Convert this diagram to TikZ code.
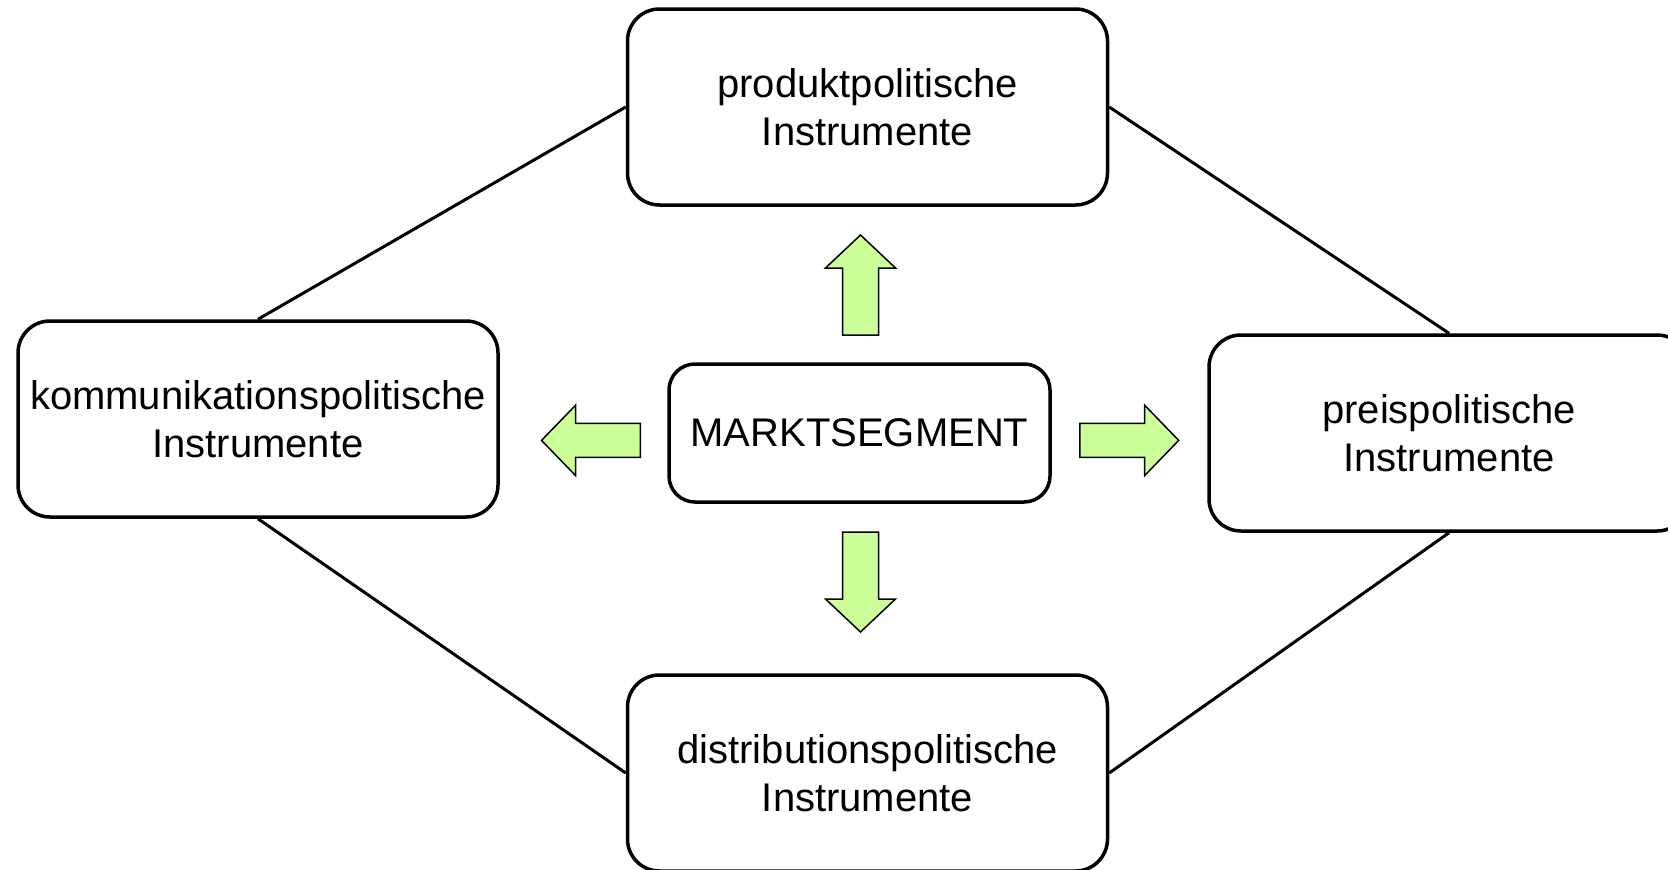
\documentclass[tikz,border=0pt]{standalone}
\usepackage{fontspec}
\setmainfont{Liberation Sans}
\definecolor{arrowgreen}{RGB}{204,255,153}
\begin{document}
\begin{tikzpicture}[x=1pt,y=-1pt,
  box/.style={draw=black, line width=3.5pt, rounded corners=32pt, fill=white,
    minimum width=480pt, minimum height=196pt, inner sep=0pt, align=center,
    font=\fontsize{40}{48}\selectfont},
  centerbox/.style={box, minimum width=381pt, minimum height=138pt, rounded corners=26pt},
  link/.style={draw=black, line width=3pt},
  blockarrow/.style={draw=black, line width=1.5pt, fill=arrowgreen, line join=miter}]
\clip (0,0) rectangle (1668,870);
\fill[white] (0,0) rectangle (1668,870);
% connectors
\node[box] (prod) at (867.5,107) {produktpolitische\\Instrumente};
\node[box] (komm) at (258,419) {kommunikationspolitische\\Instrumente};
\node[box] (preis) at (1449,433) {preispolitische\\Instrumente};
\node[box] (dist) at (867.5,773) {distributionspolitische\\Instrumente};
\node[centerbox] (markt) at (859.5,433) {MARKTSEGMENT};
\draw[link] (prod.west) -- (komm.north);
\draw[link] (prod.east) -- (preis.north);
\draw[link] (komm.south) -- (dist.west);
\draw[link] (preis.south) -- (dist.east);
% block arrows
\draw[blockarrow] (842.5,335) -- (842.5,268) -- (825.5,268) -- (860.5,235) -- (895.5,268) -- (878.5,268) -- (878.5,335) -- cycle;
\draw[blockarrow] (842.5,532) -- (878.5,532) -- (878.5,599) -- (895.5,599) -- (860.5,632) -- (825.5,599) -- (842.5,599) -- cycle;
\draw[blockarrow] (640.4,423.4) -- (575.5,423.4) -- (575.5,405.3) -- (541.5,440.4) -- (575.5,475.5) -- (575.5,457.4) -- (640.4,457.4) -- cycle;
\draw[blockarrow] (1079.8,423.4) -- (1144.7,423.4) -- (1144.7,405.3) -- (1178.7,440.4) -- (1144.7,475.5) -- (1144.7,457.4) -- (1079.8,457.4) -- cycle;
\end{tikzpicture}
\end{document}
